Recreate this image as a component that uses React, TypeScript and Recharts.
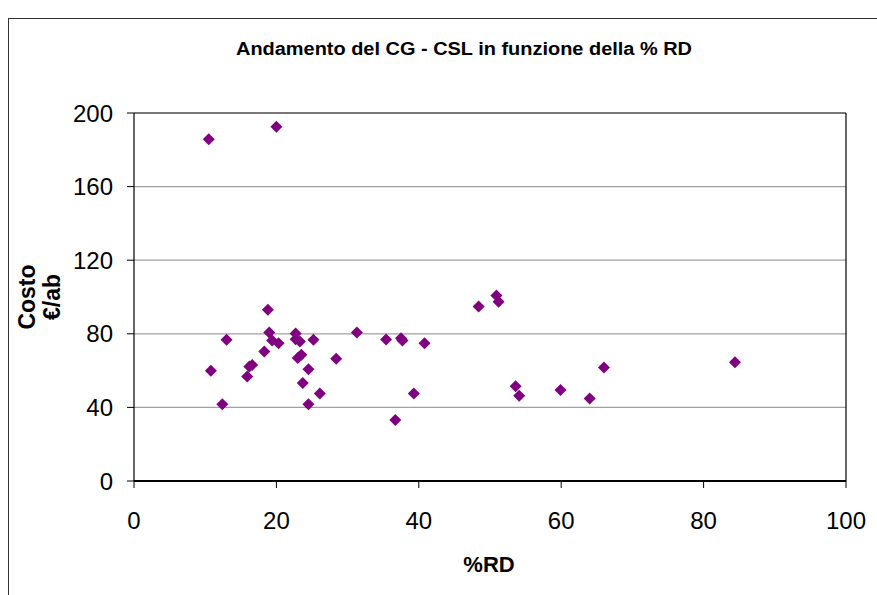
import React from "react";
import {
  ScatterChart,
  Scatter,
  XAxis,
  YAxis,
  CartesianGrid,
  ReferenceLine,
} from "recharts";

// % raccolta differenziata per comune
const rdPercent = [
  10.5, 20.0, 18.8, 13.0, 19.0, 19.4, 20.3, 22.7, 22.7, 23.3,
  25.2, 31.3, 18.3, 23.5, 23.0, 28.4, 10.8, 16.6, 16.2, 15.9,
  24.5, 23.7, 26.1, 12.4, 24.5, 35.4, 37.5, 37.7, 40.8, 39.3,
  36.7, 48.4, 50.9, 51.2, 53.6, 54.1, 59.9, 64.0, 66.0, 84.4,
];

// costo per abitante (€/ab)
const costPerInhabitant = [
  185.7, 192.5, 93.1, 76.7, 80.7, 76.4, 74.9, 80.2, 77.1, 75.8,
  76.7, 80.7, 70.4, 68.6, 66.8, 66.4, 59.9, 63.1, 62.2, 56.8,
  60.8, 53.2, 47.5, 41.7, 41.7, 76.9, 77.6, 76.4, 74.9, 47.5,
  33.2, 94.9, 100.8, 97.4, 51.5, 46.3, 49.5, 44.8, 61.7, 64.6,
];

const xTicks = [0, 20, 40, 60, 80, 100];
const yTicks = [0, 40, 80, 120, 160, 200];

const points = rdPercent.map((rd, i) => ({ rd, costo: costPerInhabitant[i] }));

const FONT = '"Liberation Sans", Arial, sans-serif';
const MARKER = "#800080";

const Diamond = (props: any) => {
  const { cx, cy } = props;
  const r = 6;
  return (
    <polygon
      points={`${cx},${cy - r} ${cx + r},${cy} ${cx},${cy + r} ${cx - r},${cy}`}
      fill={MARKER}
    />
  );
};

const YTitle = (props: any) => {
  const { x, y, height } = props.viewBox;
  const cy = y + height / 2;
  const style = { fontFamily: FONT, fontWeight: 700, fontSize: 23, fill: "#000" };
  return (
    <g>
      <text x={x - 19} y={cy} textAnchor="middle" transform={`rotate(-90 ${x - 19} ${cy})`} style={style}>
        Costo
      </text>
      <text x={x + 6} y={cy} textAnchor="middle" transform={`rotate(-90 ${x + 6} ${cy})`} style={style}>
        €/ab
      </text>
    </g>
  );
};

const XTitle = (props: any) => {
  const { x, y, width } = props.viewBox;
  return (
    <text
      x={x + width / 2 - 1}
      y={y + 91}
      textAnchor="middle"
      style={{ fontFamily: FONT, fontWeight: 700, fontSize: 22, fill: "#000" }}
    >
      %RD
    </text>
  );
};

export default function App() {
  return (
    <div style={{ position: "absolute", left: 0, top: 0, width: 877, height: 595, background: "#fff", overflow: "hidden" }}>
      <div
        style={{
          position: "absolute",
          left: 8,
          top: 18,
          width: 900,
          height: 600,
          borderLeft: "1.5px solid #333",
          borderTop: "1.5px solid #333",
        }}
      />
      <svg style={{ position: "absolute", left: 0, top: 0 }} width={877} height={80}>
        <text
          x={464}
          y={55}
          textAnchor="middle"
          textLength={456}
          lengthAdjust="spacingAndGlyphs"
          style={{ fontFamily: FONT, fontWeight: 700, fontSize: 18, fill: "#000" }}
        >
          Andamento del CG - CSL in funzione della % RD
        </text>
      </svg>
      <div style={{ position: "absolute", left: 0, top: 0 }}>
        <ScatterChart
          width={877}
          height={595}
          margin={{ top: 113, right: 31, left: 54, bottom: 54 }}
        >
          <CartesianGrid horizontal vertical={false} stroke="#a0a0a0" strokeWidth={1.2} />
          <XAxis
            type="number"
            dataKey="rd"
            domain={[0, 100]}
            ticks={xTicks}
            height={60}
            tickSize={7}
            tickMargin={24}
            axisLine={{ stroke: "#000", strokeWidth: 2 }}
            tickLine={{ stroke: "#000" }}
            tick={{ fill: "#000", fontSize: 24, fontFamily: FONT }}
            label={{ content: XTitle }}
          />
          <YAxis
            type="number"
            dataKey="costo"
            domain={[0, 200]}
            ticks={yTicks}
            width={80}
            tickSize={7}
            tickMargin={14}
            axisLine={{ stroke: "#000", strokeWidth: 1.2 }}
            tickLine={{ stroke: "#000" }}
            tick={{ fill: "#000", fontSize: 24, fontFamily: FONT }}
            label={{ content: YTitle }}
          />
          <ReferenceLine y={200} stroke="#222" strokeWidth={1.2} />
          <ReferenceLine x={100} stroke="#000" strokeWidth={1.2} />
          <Scatter data={points} shape={Diamond} isAnimationActive={false} />
        </ScatterChart>
      </div>
    </div>
  );
}
